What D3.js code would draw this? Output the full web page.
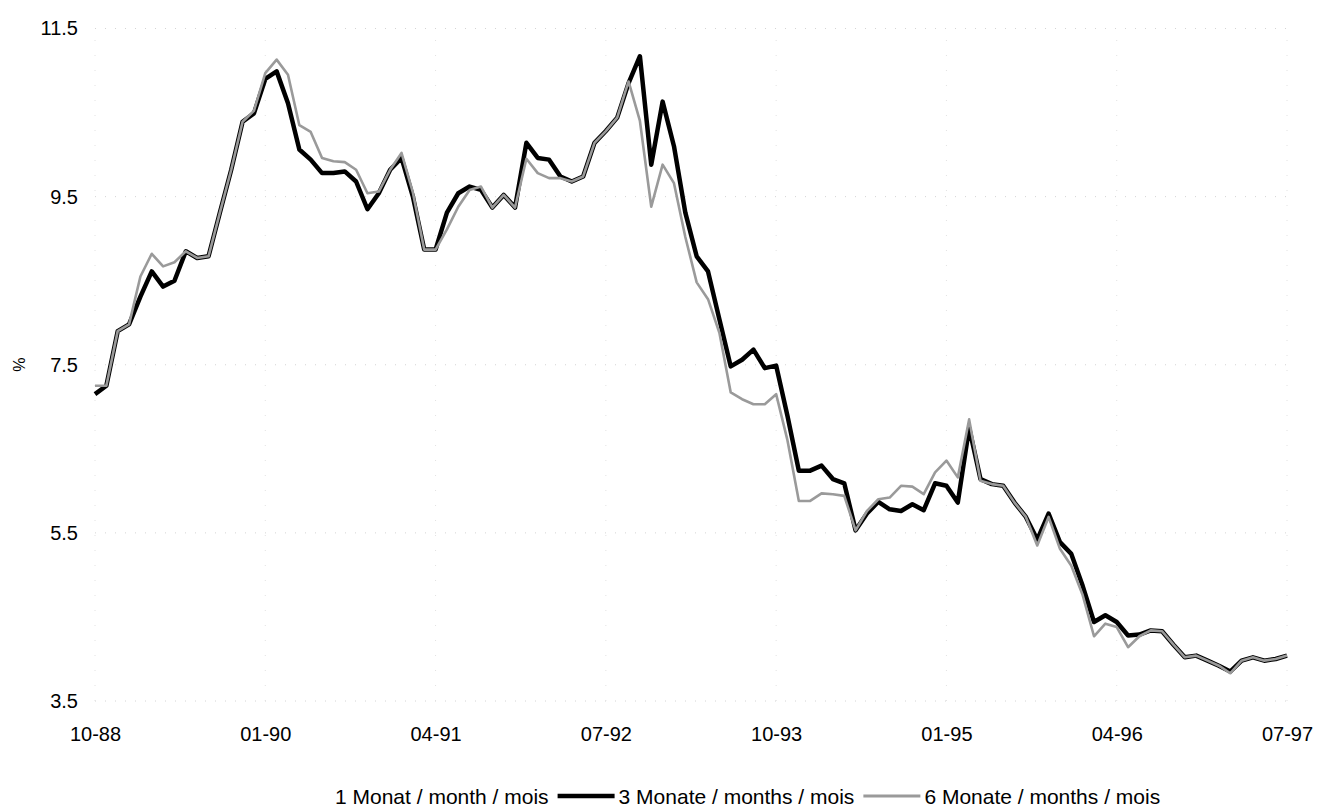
<!DOCTYPE html>
<html>
<head>
<meta charset="utf-8">
<script src="https://cdn.jsdelivr.net/npm/d3@7"></script>
<style>
  html, body { margin: 0; padding: 0; background: #fff; }
  svg { display: block; }
  text { font-family: "Liberation Sans", Arial, Helvetica, sans-serif; fill: #000; }
</style>
</head>
<body>
<svg id="chart" width="1322" height="808"></svg>
<script>
// ---- data (monthly, 10-88 .. 07-97) ----
const startMonth = "1988-10";
const monthCount = 106;

const rate3M = [
  7.15, 7.25, 7.90, 7.98, 8.31, 8.61, 8.43, 8.50, 8.85, 8.77,
  8.79, 9.31, 9.82, 10.39, 10.49, 10.90, 10.99, 10.61, 10.06, 9.94,
  9.78, 9.78, 9.80, 9.68, 9.35, 9.54, 9.82, 9.96, 9.50, 8.87,
  8.87, 9.31, 9.54, 9.62, 9.58, 9.37, 9.52, 9.37, 10.14, 9.96,
  9.94, 9.74, 9.68, 9.74, 10.14, 10.28, 10.44, 10.85, 11.17, 9.88,
  10.63, 10.10, 9.31, 8.79, 8.61, 8.04, 7.48, 7.56, 7.68, 7.46,
  7.49, 6.89, 6.24, 6.24, 6.30, 6.14, 6.09, 5.53, 5.73, 5.87,
  5.78, 5.76, 5.84, 5.77, 6.09, 6.06, 5.86, 6.75, 6.14, 6.08,
  6.06, 5.86, 5.69, 5.42, 5.73, 5.39, 5.25, 4.87, 4.44, 4.52,
  4.44, 4.28, 4.29, 4.34, 4.33, 4.17, 4.02, 4.04, 3.98, 3.92,
  3.85, 3.98, 4.02, 3.98, 4.00, 4.04
];

const rate6M = [
  7.25, 7.25, 7.90, 7.98, 8.55, 8.82, 8.67, 8.72, 8.85, 8.77,
  8.79, 9.31, 9.82, 10.39, 10.52, 10.97, 11.13, 10.95, 10.35, 10.27,
  9.96, 9.92, 9.91, 9.82, 9.54, 9.56, 9.82, 10.02, 9.55, 8.87,
  8.87, 9.11, 9.38, 9.58, 9.62, 9.37, 9.52, 9.37, 9.95, 9.78,
  9.72, 9.72, 9.68, 9.74, 10.14, 10.28, 10.44, 10.87, 10.40, 9.38,
  9.88, 9.66, 9.02, 8.48, 8.28, 7.88, 7.17, 7.09, 7.03, 7.03,
  7.15, 6.60, 5.88, 5.88, 5.97, 5.96, 5.94, 5.53, 5.76, 5.90,
  5.92, 6.06, 6.05, 5.96, 6.22, 6.36, 6.16, 6.85, 6.12, 6.08,
  6.06, 5.86, 5.69, 5.35, 5.69, 5.31, 5.11, 4.76, 4.27, 4.42,
  4.38, 4.14, 4.27, 4.34, 4.33, 4.17, 4.02, 4.04, 3.98, 3.92,
  3.83, 3.98, 4.02, 3.98, 4.00, 4.04
];

const xTickIndex = [0, 15, 30, 45, 60, 75, 90, 105];
const xTickLabels = ["10-88", "01-90", "04-91", "07-92", "10-93", "01-95", "04-96", "07-97"];
const yTicks = [3.5, 5.5, 7.5, 9.5, 11.5];
const yLabel = "%";
const legendLabels = ["1 Monat / month / mois", "3 Monate / months / mois", "6 Monate / months / mois"];

// ---- layout ----
const svg = d3.select("#chart");
const x = d3.scaleLinear().domain([0, monthCount - 1]).range([95, 1287]);
const y = d3.scaleLinear().domain([3.5, 11.5]).range([701, 28.5]);

// faint dotted grid
const grid = svg.append("g");
grid.selectAll("line.h").data(yTicks).join("line")
  .attr("x1", x(0)).attr("x2", x(monthCount - 1))
  .attr("y1", d => y(d)).attr("y2", d => y(d))
  .attr("stroke", "#d4d4d4").attr("stroke-width", 1)
  .attr("stroke-dasharray", "1,9");
grid.selectAll("line.v").data(xTickIndex).join("line")
  .attr("x1", d => x(d)).attr("x2", d => x(d))
  .attr("y1", y(3.5)).attr("y2", y(11.5))
  .attr("stroke", "#e2e2e2").attr("stroke-width", 1)
  .attr("stroke-dasharray", "1,14");

// y axis labels
const yAxis = d3.axisLeft(y).tickValues(yTicks).tickFormat(d3.format(".1f")).tickSize(0).tickPadding(0);
const gy = svg.append("g").attr("transform", "translate(78,0)").call(yAxis);
gy.select(".domain").remove();
gy.selectAll("text").attr("font-size", 20).attr("font-family", "'Liberation Sans', Arial, sans-serif");

// x axis labels
const xAxis = d3.axisBottom(x).tickValues(xTickIndex)
  .tickFormat((d, i) => xTickLabels[i]).tickSize(0).tickPadding(0);
const gx = svg.append("g").attr("transform", "translate(0,727)").call(xAxis);
gx.select(".domain").remove();
gx.selectAll("text").attr("font-size", 20).attr("font-family", "'Liberation Sans', Arial, sans-serif");

// y axis title
svg.append("text")
  .attr("transform", `translate(25,${y(7.5)}) rotate(-90)`)
  .attr("text-anchor", "middle")
  .attr("font-size", 16)
  .text(yLabel);

// lines
const line = d3.line().x((d, i) => x(i)).y(d => y(d)).curve(d3.curveLinear);
svg.append("path").datum(rate3M)
  .attr("d", line).attr("fill", "none")
  .attr("stroke", "#000").attr("stroke-width", 4.5)
  .attr("stroke-linejoin", "round");
svg.append("path").datum(rate6M)
  .attr("d", line).attr("fill", "none")
  .attr("stroke", "#9a9a9a").attr("stroke-width", 2.6)
  .attr("stroke-linejoin", "round");

// legend
const legendStyles = [
  { stroke: "none", width: 0 },
  { stroke: "#000", width: 4.5 },
  { stroke: "#9a9a9a", width: 3 }
];
const lg = svg.append("g");
let cx = 335;
const ly = 804;
legendLabels.forEach((lab, i) => {
  if (i > 0) {
    const sx0 = cx + 9, sx1 = sx0 + 57;
    lg.append("line").attr("x1", sx0).attr("x2", sx1)
      .attr("y1", ly - 8).attr("y2", ly - 8)
      .attr("stroke", legendStyles[i].stroke).attr("stroke-width", legendStyles[i].width);
    cx = sx1 + 4;
  }
  const t = lg.append("text").attr("x", cx).attr("y", ly).attr("font-size", 21).text(lab);
  cx += t.node().getComputedTextLength();
});
</script>
</body>
</html>
